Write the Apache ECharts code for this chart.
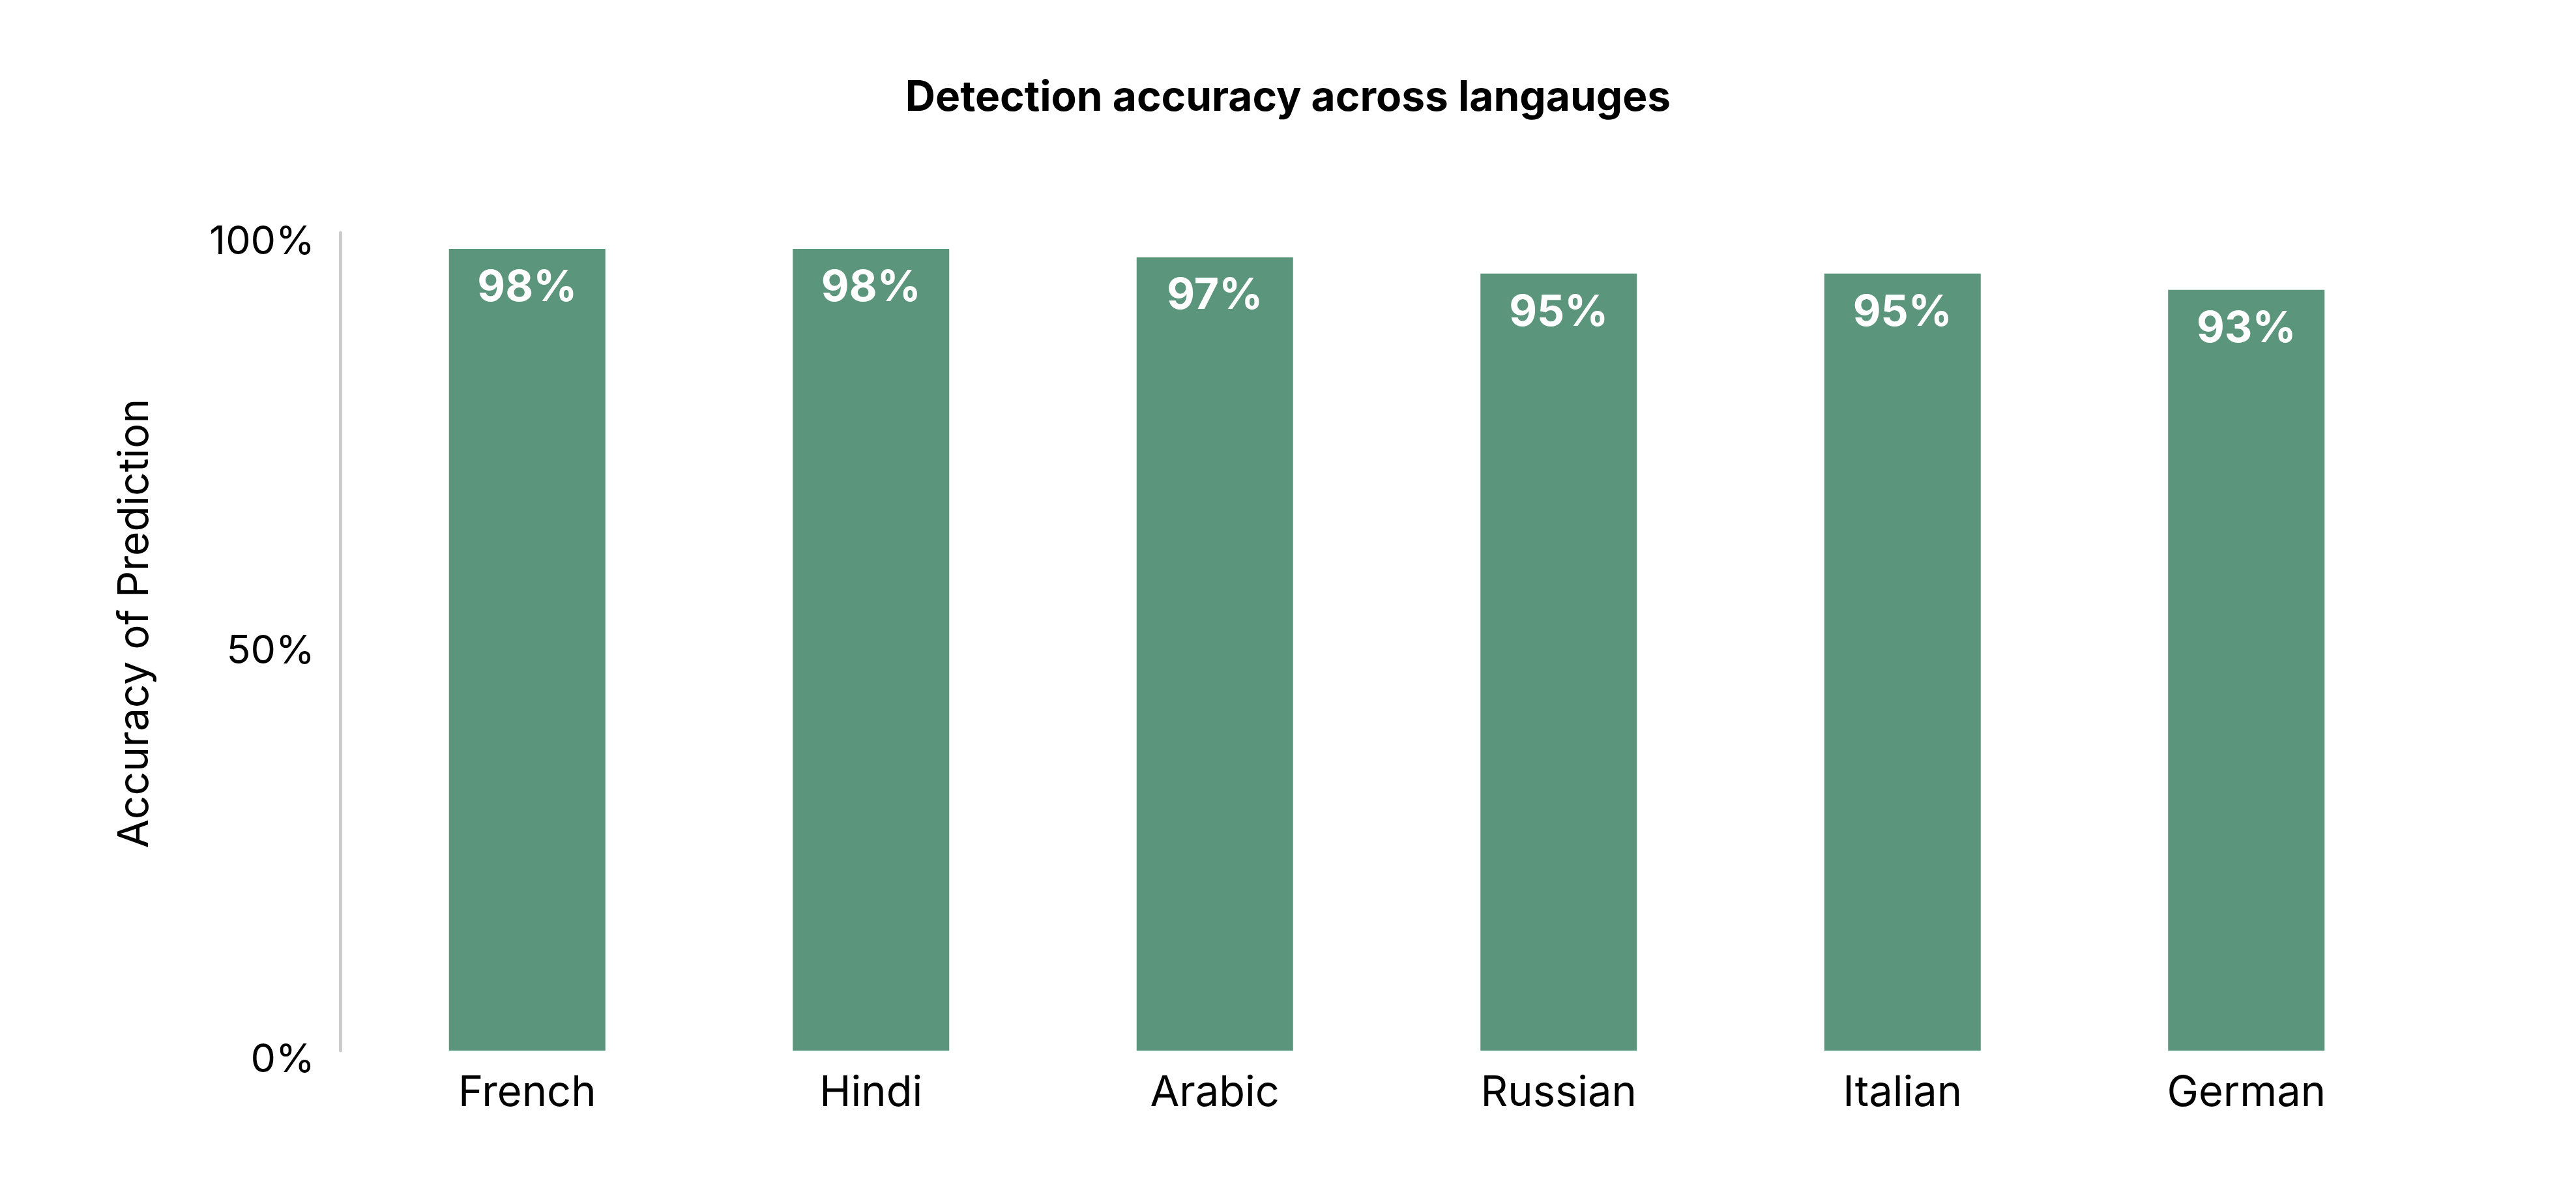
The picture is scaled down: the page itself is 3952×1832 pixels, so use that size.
<!DOCTYPE html>
<html>
<head>
<meta charset="utf-8">
<script src="https://cdn.jsdelivr.net/npm/echarts@6/dist/echarts.min.js"></script>
<style>
html,body{margin:0;padding:0;background:#fff;}
#chart{width:3952px;height:1832px;}
</style>
</head>
<body>
<div id="chart"></div>
<script>
const categories = ['French', 'Hindi', 'Arabic', 'Russian', 'Italian', 'German'];
const accuracy = [98, 98, 97, 95, 95, 93];
const yTicks = [0, 50, 100];

const chart = echarts.init(document.getElementById('chart'), null, {renderer: 'canvas'});
const font = 'Inter, "Noto Sans", sans-serif';
chart.setOption({
  backgroundColor: '#ffffff',
  animation: false,
  title: {
    text: 'Detection accuracy across langauges',
    left: 'center',
    top: 114,
    textStyle: {fontFamily: font, fontSize: 64, fontWeight: 'bold', color: '#000000'}
  },
  grid: {left: 545, right: 242, top: 357, bottom: 220, containLabel: false},
  xAxis: {
    type: 'category',
    data: categories,
    axisLine: {show: false},
    axisTick: {show: false},
    axisLabel: {fontFamily: font, fontSize: 65, color: '#000000', margin: 32, lineHeight: 66}
  },
  yAxis: {
    type: 'value',
    min: yTicks[0],
    max: yTicks[yTicks.length - 1],
    interval: yTicks[1] - yTicks[0],
    offset: 23,
    name: 'Accuracy of Prediction',
    nameLocation: 'middle',
    nameGap: 282,
    nameTextStyle: {fontFamily: font, fontSize: 64, color: '#000000', padding: [0, 0, 0, 56]},
    axisLine: {show: true, lineStyle: {color: '#cccccc', width: 5}},
    axisTick: {show: false},
    splitLine: {show: false},
    axisLabel: {
      fontFamily: font, fontSize: 61, color: '#000000', margin: 39,
      formatter: '{value}%', verticalAlign: 'top', lineHeight: 30
    }
  },
  series: [{
    type: 'bar',
    data: accuracy,
    barWidth: 240,
    itemStyle: {color: '#5b957c'},
    label: {
      show: true,
      position: 'insideTop',
      distance: 27,
      formatter: '{c}%',
      fontFamily: font,
      fontSize: 66,
      fontWeight: 'bold',
      lineHeight: 66,
      color: '#ffffff'
    }
  }]
});
</script>
</body>
</html>
